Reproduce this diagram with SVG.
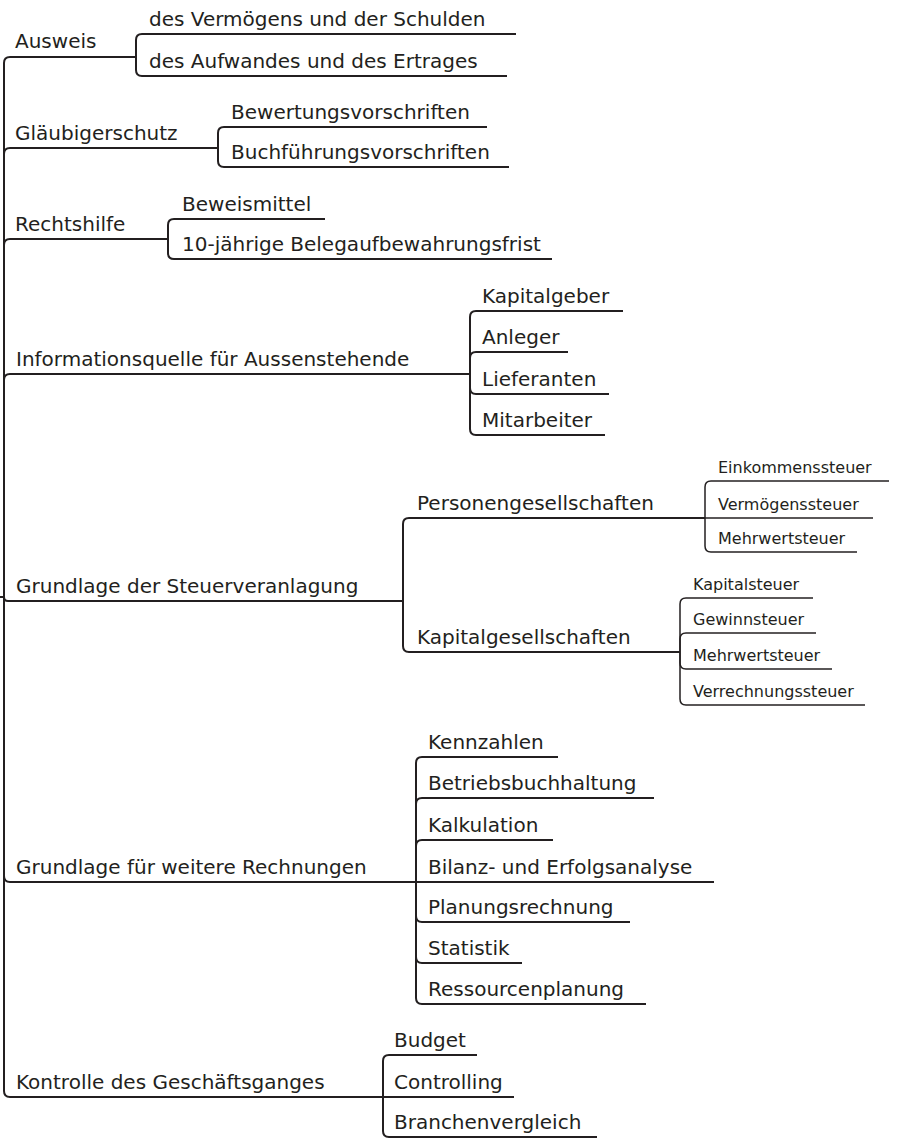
<svg xmlns="http://www.w3.org/2000/svg" width="899" height="1138" viewBox="0 0 899 1138">
<style>
  text { font-family: "DejaVu Sans", "Liberation Sans", sans-serif; fill: #231f20; }
  .t1 { font-size: 20px; }
  .t3 { font-size: 16px; }
  .u1 { stroke: #231f20; stroke-width: 2; fill: none; }
  .u3 { stroke: #231f20; stroke-width: 1.5; fill: none; }
  .c1 { stroke: #231f20; stroke-width: 2; fill: none; }
  .c3 { stroke: #231f20; stroke-width: 1.5; fill: none; }
</style>
<rect width="899" height="1138" fill="#ffffff"/>
<g id="connectors">
  <path class="c1" d="M0,597 H4"/>
  <path class="c1" d="M4,597 V63 Q4,57 10,57"/>
  <path class="c1" d="M4,597 V154 Q4,148 10,148"/>
  <path class="c1" d="M4,597 V245 Q4,239 10,239"/>
  <path class="c1" d="M4,597 V380 Q4,374 10,374"/>
  <path class="c1" d="M4,597 Q4,601 8,601 H10"/>
  <path class="c1" d="M4,597 V876 Q4,882 10,882"/>
  <path class="c1" d="M4,597 V1091 Q4,1097 10,1097"/>
  <path class="c1" d="M136,57 V40 Q136,34 142,34"/>
  <path class="c1" d="M136,57 V70 Q136,76 142,76"/>
  <path class="c1" d="M218,148 V133 Q218,127 224,127"/>
  <path class="c1" d="M218,148 V161 Q218,167 224,167"/>
  <path class="c1" d="M168,239 V225 Q168,219 174,219"/>
  <path class="c1" d="M168,239 V253 Q168,259 174,259"/>
  <path class="c1" d="M470,374 V317 Q470,311 476,311"/>
  <path class="c1" d="M470,374 V358 Q470,352 476,352"/>
  <path class="c1" d="M470,374 V388 Q470,394 476,394"/>
  <path class="c1" d="M470,374 V429 Q470,435 476,435"/>
  <path class="c1" d="M403,601 V524 Q403,518 409,518"/>
  <path class="c1" d="M403,601 V646 Q403,652 409,652"/>
  <path class="c3" d="M705,518 V487 Q705,481 711,481"/>
  <path class="c3" d="M705,518 H711"/>
  <path class="c3" d="M705,518 V546 Q705,552 711,552"/>
  <path class="c3" d="M680,652 V604 Q680,598 686,598"/>
  <path class="c3" d="M680,652 V639 Q680,633 686,633"/>
  <path class="c3" d="M680,652 V663 Q680,669 686,669"/>
  <path class="c3" d="M680,652 V699 Q680,705 686,705"/>
  <path class="c1" d="M416,882 V763 Q416,757 422,757"/>
  <path class="c1" d="M416,882 V804 Q416,798 422,798"/>
  <path class="c1" d="M416,882 V846 Q416,840 422,840"/>
  <path class="c1" d="M416,882 H422"/>
  <path class="c1" d="M416,882 V916 Q416,922 422,922"/>
  <path class="c1" d="M416,882 V957 Q416,963 422,963"/>
  <path class="c1" d="M416,882 V998 Q416,1004 422,1004"/>
  <path class="c1" d="M383,1097 V1061 Q383,1055 389,1055"/>
  <path class="c1" d="M383,1097 H389"/>
  <path class="c1" d="M383,1097 V1131 Q383,1137 389,1137"/>
</g>
<g id="n-ausweis"><line class="u1" x1="10" y1="57" x2="136" y2="57"/><text class="t1" x="15" y="48">Ausweis</text></g>
<g id="n-vermoegen"><line class="u1" x1="142" y1="34" x2="516" y2="34"/><text class="t1" x="149" y="26">des Vermögens und der Schulden</text></g>
<g id="n-aufwand"><line class="u1" x1="142" y1="76" x2="507" y2="76"/><text class="t1" x="149" y="68">des Aufwandes und des Ertrages</text></g>
<g id="n-glaeubiger"><line class="u1" x1="10" y1="148" x2="218" y2="148"/><text class="t1" x="15" y="140">Gläubigerschutz</text></g>
<g id="n-bewertung"><line class="u1" x1="224" y1="127" x2="487" y2="127"/><text class="t1" x="231" y="119">Bewertungsvorschriften</text></g>
<g id="n-buchfuehrung"><line class="u1" x1="224" y1="167" x2="509" y2="167"/><text class="t1" x="231" y="159">Buchführungsvorschriften</text></g>
<g id="n-rechtshilfe"><line class="u1" x1="10" y1="239" x2="168" y2="239"/><text class="t1" x="15" y="231">Rechtshilfe</text></g>
<g id="n-beweismittel"><line class="u1" x1="174" y1="219" x2="325" y2="219"/><text class="t1" x="182" y="211">Beweismittel</text></g>
<g id="n-frist"><line class="u1" x1="174" y1="259" x2="552" y2="259"/><text class="t1" x="182" y="251">10-jährige Belegaufbewahrungsfrist</text></g>
<g id="n-info"><line class="u1" x1="10" y1="374" x2="470" y2="374"/><text class="t1" x="16" y="366">Informationsquelle für Aussenstehende</text></g>
<g id="n-kapitalgeber"><line class="u1" x1="476" y1="311" x2="623" y2="311"/><text class="t1" x="482" y="303">Kapitalgeber</text></g>
<g id="n-anleger"><line class="u1" x1="476" y1="352" x2="568" y2="352"/><text class="t1" x="482" y="344">Anleger</text></g>
<g id="n-lieferanten"><line class="u1" x1="476" y1="394" x2="609" y2="394"/><text class="t1" x="482" y="386">Lieferanten</text></g>
<g id="n-mitarbeiter"><line class="u1" x1="476" y1="435" x2="605" y2="435"/><text class="t1" x="482" y="427">Mitarbeiter</text></g>
<g id="n-steuer"><line class="u1" x1="10" y1="601" x2="403" y2="601"/><text class="t1" x="16" y="593">Grundlage der Steuerveranlagung</text></g>
<g id="n-personen"><line class="u1" x1="409" y1="518" x2="705" y2="518"/><text class="t1" x="417" y="510">Personengesellschaften</text></g>
<g id="n-einkommen"><line class="u3" x1="711" y1="481" x2="889" y2="481"/><text class="t3" x="718" y="473">Einkommenssteuer</text></g>
<g id="n-vermoegenssteuer"><line class="u3" x1="711" y1="518" x2="873" y2="518"/><text class="t3" x="718" y="510">Vermögenssteuer</text></g>
<g id="n-mwst1"><line class="u3" x1="711" y1="552" x2="857" y2="552"/><text class="t3" x="718" y="544">Mehrwertsteuer</text></g>
<g id="n-kapitalges"><line class="u1" x1="409" y1="652" x2="680" y2="652"/><text class="t1" x="417" y="644">Kapitalgesellschaften</text></g>
<g id="n-kapitalsteuer"><line class="u3" x1="686" y1="598" x2="813" y2="598"/><text class="t3" x="693" y="590">Kapitalsteuer</text></g>
<g id="n-gewinnsteuer"><line class="u3" x1="686" y1="633" x2="816" y2="633"/><text class="t3" x="693" y="625">Gewinnsteuer</text></g>
<g id="n-mwst2"><line class="u3" x1="686" y1="669" x2="832" y2="669"/><text class="t3" x="693" y="661">Mehrwertsteuer</text></g>
<g id="n-verrechnung"><line class="u3" x1="686" y1="705" x2="865" y2="705"/><text class="t3" x="693" y="697">Verrechnungssteuer</text></g>
<g id="n-rechnungen"><line class="u1" x1="10" y1="882" x2="416" y2="882"/><text class="t1" x="16" y="874">Grundlage für weitere Rechnungen</text></g>
<g id="n-kennzahlen"><line class="u1" x1="422" y1="757" x2="558" y2="757"/><text class="t1" x="428" y="749">Kennzahlen</text></g>
<g id="n-betriebsbuch"><line class="u1" x1="422" y1="798" x2="654" y2="798"/><text class="t1" x="428" y="790">Betriebsbuchhaltung</text></g>
<g id="n-kalkulation"><line class="u1" x1="422" y1="840" x2="553" y2="840"/><text class="t1" x="428" y="832">Kalkulation</text></g>
<g id="n-bilanz"><line class="u1" x1="422" y1="882" x2="714" y2="882"/><text class="t1" x="428" y="874">Bilanz- und Erfolgsanalyse</text></g>
<g id="n-planung"><line class="u1" x1="422" y1="922" x2="630" y2="922"/><text class="t1" x="428" y="914">Planungsrechnung</text></g>
<g id="n-statistik"><line class="u1" x1="422" y1="963" x2="522" y2="963"/><text class="t1" x="428" y="955">Statistik</text></g>
<g id="n-ressourcen"><line class="u1" x1="422" y1="1004" x2="646" y2="1004"/><text class="t1" x="428" y="996">Ressourcenplanung</text></g>
<g id="n-kontrolle"><line class="u1" x1="10" y1="1097" x2="383" y2="1097"/><text class="t1" x="16" y="1089">Kontrolle des Geschäftsganges</text></g>
<g id="n-budget"><line class="u1" x1="389" y1="1055" x2="477" y2="1055"/><text class="t1" x="394" y="1047">Budget</text></g>
<g id="n-controlling"><line class="u1" x1="389" y1="1097" x2="514" y2="1097"/><text class="t1" x="394" y="1089">Controlling</text></g>
<g id="n-branchen"><line class="u1" x1="389" y1="1137" x2="597" y2="1137"/><text class="t1" x="394" y="1129">Branchenvergleich</text></g>
</svg>
